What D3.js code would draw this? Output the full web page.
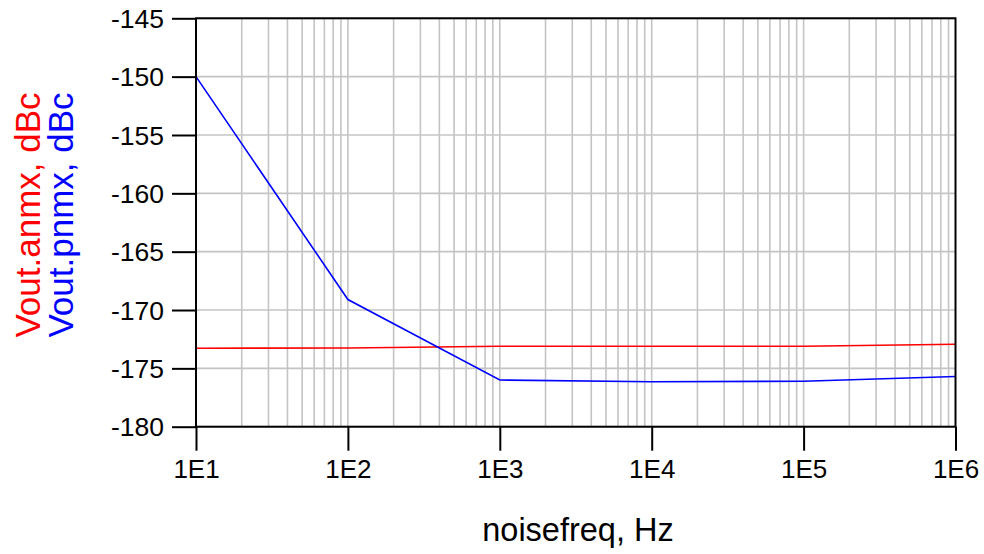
<!DOCTYPE html>
<html>
<head>
<meta charset="utf-8">
<script src="https://cdn.jsdelivr.net/npm/d3@7"></script>
<style>
  body { margin: 0; background: #fff; }
  text { font-family: 'Liberation Sans', Arial, sans-serif; fill: #000; }
</style>
</head>
<body>
<div id="chart"></div>
<script>
'use strict';

// noise frequency sweep, Hz
var FREQS = [1e1, 1e2, 1e3, 1e4, 1e5, 1e6];
// Vout.anmx, dBc (amplitude noise)
var ANMX = [-173.28, -173.25, -173.1, -173.1, -173.1, -172.93];
// Vout.pnmx, dBc (phase noise)
var PNMX = [-150.0, -169.1, -176.0, -176.15, -176.1, -175.7];

var Y_TICKS = [-145, -150, -155, -160, -165, -170, -175, -180];
var X_TICKS = [1e1, 1e2, 1e3, 1e4, 1e5, 1e6];
var X_TICK_LABELS = ['1E1', '1E2', '1E3', '1E4', '1E5', '1E6'];

var WIDTH = 984;
var HEIGHT = 554;
var LEFT = 196;
var RIGHT = 955.5;
var TOP = 18.3;
var BOTTOM = 426.7;
var TICK_LEN = 24;

var svg = d3.select('#chart').append('svg')
  .attr('width', WIDTH)
  .attr('height', HEIGHT);

var x = d3.scaleLog().domain([1e1, 1e6]).range([LEFT, RIGHT]);
var y = d3.scaleLinear().domain([-180, -145]).range([BOTTOM, TOP]);

// minor log gridlines (2..9 of every decade) plus decades
var gridX = [];
for (var d = 1; d < 6; ++d) {
  for (var k = 1; k <= 9; ++k) {
    gridX.push(k * Math.pow(10, d));
  }
}

var grid = svg.append('g')
  .attr('stroke', '#c4c4c4')
  .attr('stroke-width', 1.6);

grid.selectAll('line.vgrid')
  .data(gridX)
  .enter()
  .append('line')
  .attr('class', 'vgrid')
  .attr('x1', function(v) { return x(v); })
  .attr('x2', function(v) { return x(v); })
  .attr('y1', TOP)
  .attr('y2', BOTTOM);

grid.selectAll('line.hgrid')
  .data(Y_TICKS)
  .enter()
  .append('line')
  .attr('class', 'hgrid')
  .attr('x1', LEFT)
  .attr('x2', RIGHT)
  .attr('y1', function(v) { return y(v); })
  .attr('y2', function(v) { return y(v); });

// data traces
var line = d3.line()
  .x(function(d) { return x(d[0]); })
  .y(function(d) { return y(d[1]); });

svg.append('path')
  .datum(d3.zip(FREQS, ANMX))
  .attr('d', line)
  .attr('fill', 'none')
  .attr('stroke', '#ff0000')
  .attr('stroke-width', 1.6);

svg.append('path')
  .datum(d3.zip(FREQS, PNMX))
  .attr('d', line)
  .attr('fill', 'none')
  .attr('stroke', '#0000ff')
  .attr('stroke-width', 1.6);

// frame
svg.append('rect')
  .attr('x', LEFT)
  .attr('y', TOP)
  .attr('width', RIGHT - LEFT)
  .attr('height', BOTTOM - TOP)
  .attr('fill', 'none')
  .attr('stroke', '#000')
  .attr('stroke-width', 2);

// axes
var yAxis = d3.axisLeft(y)
  .tickValues(Y_TICKS)
  .tickSize(TICK_LEN)
  .tickPadding(8)
  .tickFormat(function(v) { return String(v); });

var yg = svg.append('g')
  .attr('transform', 'translate(' + LEFT + ',0)')
  .call(yAxis);
yg.select('.domain').remove();
yg.selectAll('.tick line').attr('stroke', '#000').attr('stroke-width', 2);
yg.selectAll('.tick text')
  .style('font-family', "'Liberation Sans', Arial, sans-serif")
  .style('font-size', '26.5px')
  .attr('dy', '0.35em');

var xAxis = d3.axisBottom(x)
  .tickValues(X_TICKS)
  .tickSize(TICK_LEN)
  .tickPadding(9)
  .tickFormat(function(v, i) { return X_TICK_LABELS[i]; });

var xg = svg.append('g')
  .attr('transform', 'translate(0,' + BOTTOM + ')')
  .call(xAxis);
xg.select('.domain').remove();
xg.selectAll('.tick line').attr('stroke', '#000').attr('stroke-width', 2);
xg.selectAll('.tick text')
  .style('font-family', "'Liberation Sans', Arial, sans-serif")
  .style('font-size', '26px');

// axis titles
svg.append('text')
  .attr('x', 578)
  .attr('y', 541)
  .attr('text-anchor', 'middle')
  .style('font-size', '32.5px')
  .text('noisefreq, Hz');

var yTitle = svg.append('g')
  .attr('transform', 'translate(0,215) rotate(-90)');

yTitle.append('text')
  .attr('x', 0)
  .attr('y', 40)
  .attr('text-anchor', 'middle')
  .style('font-size', '35px')
  .style('fill', '#ff0000')
  .text('Vout.anmx, dBc');

yTitle.append('text')
  .attr('x', 0)
  .attr('y', 73)
  .attr('text-anchor', 'middle')
  .style('font-size', '35px')
  .style('fill', '#0000ff')
  .text('Vout.pnmx, dBc');
</script>
</body>
</html>
